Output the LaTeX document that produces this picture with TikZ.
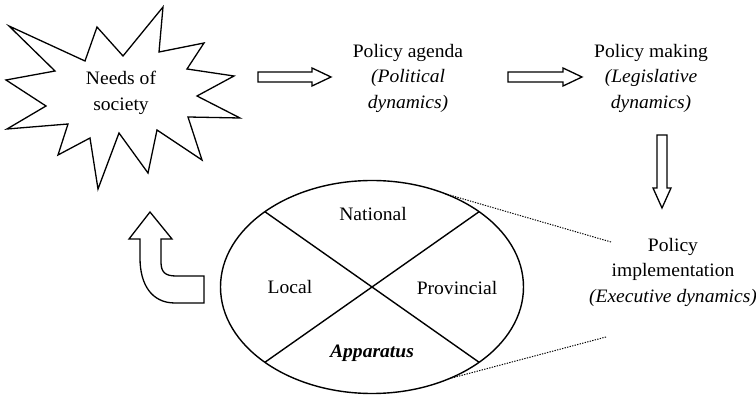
\documentclass[tikz,border=0pt]{standalone}
\usepackage{fontspec}
\setmainfont{Liberation Serif}[
  ItalicFont={Liberation Serif Italic},
  BoldFont={Liberation Serif Bold},
  BoldItalicFont={Liberation Serif Bold Italic},
  FakeStretch=1.03]
\usetikzlibrary{shapes.geometric}
\begin{document}
\begin{tikzpicture}[x=1pt,y=-1pt,
  outline/.style={draw=black,line width=1.3pt,line join=miter,fill=white},
  label/.style={align=center,inner sep=0pt,font=\fontsize{19}{25.5}\selectfont},
  zoomline/.style={draw=black,line width=1pt,dash pattern=on 1.3pt off 1.3pt}]
\useasboundingbox (0,0) rectangle (756,395);

% burst: needs of society
\draw[outline] (9,26) -- (85,61) -- (97,27) -- (123,56) -- (163,7) -- (159,52)
  -- (204,43) -- (187,69) -- (234,76) -- (197,96) -- (240,118) -- (188,117)
  -- (202,160) -- (157,130) -- (148,173) -- (119,133) -- (98,189) -- (90,138)
  -- (58,155) -- (68,124) -- (7,129) -- (46,106) -- (6,80) -- (55,71) -- cycle;
\node[label] (needs) at (121,93) {Needs of\\society};

% stage labels
\node[label] (agenda) at (408,78) {Policy agenda\\\textit{(Political}\\\textit{dynamics)}};
\node[label] (making) at (651,78) {Policy making\\\textit{(Legislative}\\\textit{dynamics)}};
\node[label] (impl) at (673,272) {Policy\\implementation\\\textit{(Executive dynamics)}};

% hollow block arrows between stages
\draw[outline] (258,72) -- (312,72) -- (312,68) -- (331,77) -- (312,86) -- (312,82) -- (258,82) -- cycle;
\draw[outline] (508,72) -- (563,72) -- (563,68) -- (582,77) -- (563,86) -- (563,82) -- (508,82) -- cycle;
\draw[outline] (657,135) -- (667,135) -- (667,188) -- (671,188) -- (662,208) -- (653,188) -- (657,188) -- cycle;

% turning arrow back to the needs of society
\draw[outline] (150,212) -- (172,239) -- (161,239) -- (161,262)
  .. controls (161,272) and (165,276) .. (176,276) -- (204,276) -- (204,303)
  -- (175,303) .. controls (152,303) and (140,285) .. (140,258)
  -- (140,239) -- (129,239) -- cycle;

% apparatus ellipse split in four
\node[draw=black,line width=1.4pt,ellipse,minimum width=303pt,minimum height=213pt,inner sep=0pt,outer sep=0pt] (app) at (372,287) {};
\draw[line width=1.4pt] (app.north west) -- (app.south east);
\draw[line width=1.4pt] (app.north east) -- (app.south west);
\node[label] (national) at (373,214) {National};
\node[label] (local) at (290,287) {Local};
\node[label] (provincial) at (457,288) {Provincial};
\node[label] (apparatus) at (372,353) {\textbf{\textit{Apparatus}}};

% zoom lines towards implementation
\coordinate (zt) at (611,242);
\coordinate (zb) at (606,337);
\draw[zoomline] (app.52) -- (zt);
\draw[zoomline] (app.-50) -- (zb);
\end{tikzpicture}
\end{document}
